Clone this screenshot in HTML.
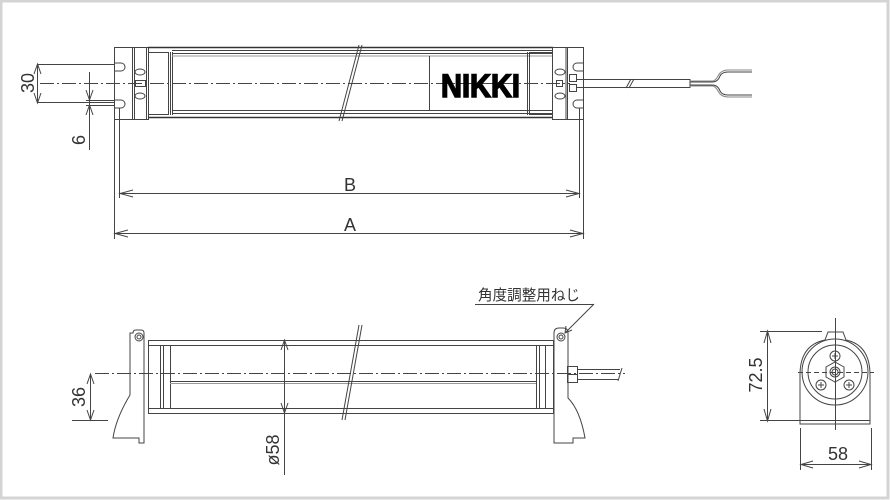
<!DOCTYPE html>
<html><head><meta charset="utf-8"><style>
html,body{margin:0;padding:0;background:#fff}
svg{display:block}
text{font-family:"Liberation Sans","Noto Sans CJK JP",sans-serif;fill:#333}
</style></head><body>
<svg width="890" height="500" viewBox="0 0 890 500" xmlns="http://www.w3.org/2000/svg">
<rect x="1" y="1" width="887" height="497" fill="#fff" stroke="#d4d4d4" stroke-width="3"/>
<g fill="none" stroke="#444" stroke-width="1">
<!-- TOP VIEW -->
<rect x="114.5" y="47.5" width="34" height="72"/>
<line x1="132.5" y1="47" x2="132.5" y2="120"/><line x1="134.5" y1="47" x2="134.5" y2="120"/><line x1="146.5" y1="47" x2="146.5" y2="120"/>
<rect x="148.5" y="52.5" width="20" height="62"/>
<line x1="170.5" y1="52" x2="170.5" y2="115"/><line x1="172.5" y1="52" x2="172.5" y2="115"/>
<line x1="148" y1="47.5" x2="553" y2="47.5" stroke="#333" stroke-width="1.5"/>
<line x1="172" y1="50.5" x2="553" y2="50.5"/><line x1="172" y1="53.5" x2="553" y2="53.5"/><line x1="172" y1="56" x2="553" y2="56" stroke="#999"/>
<line x1="172" y1="110.5" x2="553" y2="110.5"/><line x1="172" y1="113.5" x2="553" y2="113.5"/><line x1="148" y1="117.5" x2="553" y2="117.5" stroke="#333" stroke-width="1.5"/>
<line x1="429.5" y1="56" x2="429.5" y2="110"/>
<rect x="529.5" y="52.5" width="23" height="62"/><line x1="527.5" y1="52" x2="527.5" y2="115"/>
<rect x="552.5" y="47.5" width="31" height="72"/><line x1="567.5" y1="47" x2="567.5" y2="120"/><line x1="566" y1="47" x2="566" y2="120"/>
<path d="M114 63 H121 A4 4 0 0 1 121 71 H114"/><path d="M114 100 H121 A4 4 0 0 1 121 108 H114"/>
<path d="M584 63 H577 A4 4 0 0 0 577 71 H584"/><path d="M584 100 H577 A4 4 0 0 0 577 108 H584"/>
<ellipse cx="140" cy="72" rx="5" ry="3"/><ellipse cx="140" cy="96" rx="5" ry="3"/><rect x="135.5" y="80.5" width="10" height="6"/>
<ellipse cx="560" cy="72" rx="5" ry="3"/><ellipse cx="560" cy="96" rx="5" ry="3"/><rect x="556.5" y="80.5" width="6" height="6"/>
<rect x="569.5" y="74.5" width="7" height="7"/><rect x="569.5" y="84.5" width="7" height="7"/>
<line x1="40" y1="83.5" x2="570" y2="83.5" stroke-dasharray="14,3,2,3"/>
<line x1="359" y1="45" x2="339" y2="121"/><line x1="362" y1="45" x2="342" y2="121"/>
<line x1="577" y1="79.5" x2="690" y2="79.5"/><line x1="577" y1="87.5" x2="690" y2="87.5"/><line x1="690" y1="79" x2="690" y2="88"/>
<line x1="626" y1="88" x2="631" y2="79" /><line x1="629" y1="88" x2="634" y2="79"/>
<path d="M690 82 H712 Q718 82 720 76 Q722 72 728 72 H752"/><path d="M690 85 H712 Q718 85 720 91 Q722 95 728 95 H752"/>
<path d="M690 81 H713 Q716 80 718 76 Q721 70 728 70 H752" stroke="#888"/>
<path d="M690 86 H713 Q716 87 718 91 Q721 97 728 97 H752" stroke="#888"/>
<line x1="38" y1="64.5" x2="114" y2="64.5"/><line x1="38" y1="102.5" x2="114" y2="102.5"/>
<line x1="37.5" y1="64" x2="37.5" y2="103"/><path d="M34 74 L37.5 64 L41 74 M34 93 L37.5 103 L41 93"/>
<line x1="86" y1="100.5" x2="114" y2="100.5"/><line x1="86" y1="105.5" x2="114" y2="105.5"/>
<line x1="89.5" y1="72" x2="89.5" y2="150"/><path d="M86 90 L89.5 100 L93 90 M86 115 L89.5 105 L93 115"/>
<line x1="114.5" y1="120" x2="114.5" y2="239"/><line x1="119.5" y1="108" x2="119.5" y2="198"/>
<line x1="583.5" y1="120" x2="583.5" y2="239"/><line x1="579.5" y1="108" x2="579.5" y2="198"/>
<line x1="120" y1="193.5" x2="579" y2="193.5"/><path d="M133 190 L120 193.5 L133 197 M566 190 L579 193.5 L566 197"/>
<line x1="115" y1="233.5" x2="583" y2="233.5"/><path d="M128 230 L115 233.5 L128 237 M570 230 L583 233.5 L570 237"/>
<!-- SIDE VIEW -->
<path d="M135 333 Q135 330 138 330 H143 Q146 330 146 333 V443 H141 V438 H115 Q118 418 132 395 V333 Z" transform="translate(-2 0)"/>
<circle cx="139" cy="337" r="4"/><circle cx="139" cy="337" r="2"/>
<rect x="148.5" y="340.5" width="405" height="73"/>
<line x1="148" y1="345.5" x2="553" y2="345.5"/><line x1="148" y1="408.5" x2="553" y2="408.5"/>
<line x1="160.5" y1="345" x2="160.5" y2="409"/><line x1="163.5" y1="345" x2="163.5" y2="409"/><line x1="170.5" y1="345" x2="170.5" y2="409"/>
<line x1="536.5" y1="345" x2="536.5" y2="409"/><line x1="539.5" y1="345" x2="539.5" y2="409"/><line x1="545.5" y1="345" x2="545.5" y2="409"/>
<line x1="170" y1="381.5" x2="536" y2="381.5"/><line x1="170" y1="383.5" x2="536" y2="383.5" stroke="#999"/>
<line x1="95" y1="373.5" x2="625" y2="373.5" stroke-dasharray="14,3,2,3"/>
<line x1="359" y1="325" x2="342" y2="420"/><line x1="362" y1="325" x2="345" y2="420"/>
<path d="M554 333 Q554 328 559 328 H563 Q568 328 568 333 V398 Q580 410 585 438 H573 V443 H554 Z"/>
<circle cx="561" cy="337" r="4"/><circle cx="561" cy="337" r="2"/>
<rect x="567.5" y="366.5" width="10" height="8"/><rect x="567.5" y="374.5" width="10" height="8"/>
<line x1="577" y1="369.5" x2="620" y2="369.5"/><line x1="577" y1="379.5" x2="618" y2="379.5"/>
<line x1="622" y1="368" x2="618" y2="381"/>
<line x1="475" y1="304.5" x2="594" y2="304.5"/><line x1="594" y1="304" x2="565" y2="333"/>
<path d="M566 326 L565 333 L572 330"/>
<line x1="72" y1="420.5" x2="108" y2="420.5"/>
<line x1="90.5" y1="374" x2="90.5" y2="420"/><path d="M87 384 L90.5 374 L94 384 M87 410 L90.5 420 L94 410"/>
<line x1="284.5" y1="340" x2="284.5" y2="475"/><path d="M281 350 L284.5 340 L288 350 M281 403 L284.5 413 L288 403"/>
<!-- END VIEW -->
<path d="M800 424 V375 Q800 345 825 340 L828 332 H843 L846 340 Q870 345 870 375 V424 Z"/>
<circle cx="835" cy="372" r="33"/><circle cx="835" cy="372" r="27"/>
<line x1="800" y1="420.5" x2="870" y2="420.5"/>
<circle cx="835" cy="356" r="5"/><path d="M832 356 H838 M835 353 V359"/>
<circle cx="821" cy="385" r="5"/><path d="M818 385 H824 M821 382 V388"/>
<circle cx="849" cy="385" r="5"/><path d="M846 385 H852 M849 382 V388"/>
<path d="M835 362 L844 367 V377 L835 382 L826 377 V367 Z"/><circle cx="835" cy="372" r="5"/><circle cx="835" cy="372" r="3"/>
<line x1="835.5" y1="318" x2="835.5" y2="430"/><line x1="798" y1="372.5" x2="874" y2="372.5" stroke-dasharray="5,3"/>
<line x1="760" y1="331.5" x2="822" y2="331.5"/><line x1="760" y1="420.5" x2="800" y2="420.5"/>
<line x1="767.5" y1="331" x2="767.5" y2="421"/><path d="M764 343 L767.5 331 L771 343 M764 409 L767.5 421 L771 409"/>
<line x1="800.5" y1="428" x2="800.5" y2="470"/><line x1="871.5" y1="428" x2="871.5" y2="470"/>
<line x1="801" y1="464.5" x2="871" y2="464.5"/><path d="M813 461 L801 464.5 L813 468 M859 461 L871 464.5 L859 468"/>
</g>
<text x="441" y="97" font-size="32" font-weight="bold" style="fill:#000;stroke:#000;stroke-width:1.5" textLength="79" lengthAdjust="spacingAndGlyphs">NIKKI</text>
<text x="350" y="191" font-size="18" text-anchor="middle">B</text>
<text x="350" y="231" font-size="18" text-anchor="middle">A</text>
<text x="0" y="0" font-size="18" text-anchor="middle" transform="translate(34 83) rotate(-90)">30</text>
<text x="0" y="0" font-size="18" text-anchor="middle" transform="translate(85 140) rotate(-90)">6</text>
<text x="0" y="0" font-size="18" text-anchor="middle" transform="translate(85 397) rotate(-90)">36</text>
<text x="0" y="0" font-size="18" text-anchor="middle" transform="translate(279 450) rotate(-90)">ø58</text>
<text x="0" y="0" font-size="18" text-anchor="middle" transform="translate(762 375) rotate(-90)">72.5</text>
<text x="838" y="460" font-size="18" text-anchor="middle">58</text>
<text x="478" y="300" font-size="15" textLength="102" lengthAdjust="spacingAndGlyphs">角度調整用ねじ</text>
</svg>
</body></html>
